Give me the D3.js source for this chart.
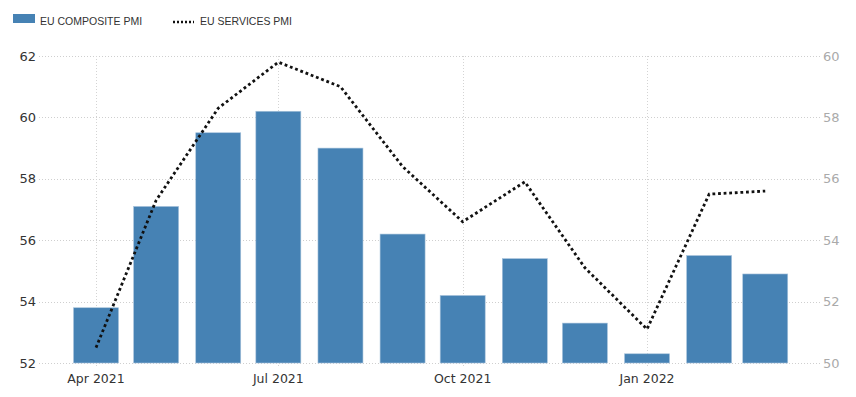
<!DOCTYPE html>
<html>
<head>
<meta charset="utf-8">
<script src="https://cdn.jsdelivr.net/npm/d3@7"></script>
<style>
  body { margin: 0; background: #fff; }
  svg { display: block; }
</style>
</head>
<body>
<svg id="container"></svg>
<script>
// monthly readings, Apr 2021 .. Mar 2022
const months = ['2021-04', '2021-05', '2021-06', '2021-07', '2021-08', '2021-09',
  '2021-10', '2021-11', '2021-12', '2022-01', '2022-02', '2022-03'];
const composite = [53.8, 57.1, 59.5, 60.2, 59.0, 56.2, 54.2, 55.4, 53.3, 52.3, 55.5, 54.9];
const services = [50.5, 55.3, 58.3, 59.8, 59.0, 56.4, 54.6, 55.9, 53.1, 51.1, 55.5, 55.6];
const leftTicks = [52, 54, 56, 58, 60, 62];
const rightTicks = [50, 52, 54, 56, 58, 60];
const xTicks = ['2021-04', '2021-07', '2021-10', '2022-01'];

const W = 856, H = 397;
const m = { left: 39, right: 820, top: 56, bottom: 363 };

const parse = d3.timeParse('%Y-%m');
const data = months.map(function (mo, i) {
  return { date: parse(mo), composite: composite[i], services: services[i] };
});

const x = d3.scaleTime()
  .domain([new Date(2021, 2, 3, 13), new Date(2022, 2, 28, 8)])
  .range([m.left, m.right]);
const yL = d3.scaleLinear().domain([52, 62]).range([m.bottom, m.top]);
const yR = d3.scaleLinear().domain([50, 60]).range([m.bottom, m.top]);

const svg = d3.select('#container')
  .attr('width', W)
  .attr('height', H);

const font = '"DejaVu Sans", Verdana, sans-serif';

// grid
svg.append('g')
  .selectAll('line')
  .data(leftTicks)
  .join('line')
    .attr('x1', m.left)
    .attr('x2', m.right)
    .attr('y1', function (d) { return Math.round(yL(d)) + 0.5; })
    .attr('y2', function (d) { return Math.round(yL(d)) + 0.5; })
    .attr('stroke', '#cfcfcf')
    .attr('stroke-dasharray', '1,2');

svg.append('g')
  .selectAll('line')
  .data(xTicks.map(parse))
  .join('line')
    .attr('x1', function (d) { return Math.round(x(d)) + 0.5; })
    .attr('x2', function (d) { return Math.round(x(d)) + 0.5; })
    .attr('y1', m.top)
    .attr('y2', m.bottom + 4)
    .attr('stroke', '#d4d4d4')
    .attr('stroke-dasharray', '1,2');

// bars
const bw = 45;
svg.append('g')
  .selectAll('rect')
  .data(data)
  .join('rect')
    .attr('x', function (d) { return x(d.date) - bw / 2; })
    .attr('y', function (d) { return yL(d.composite); })
    .attr('width', bw)
    .attr('height', function (d) { return m.bottom - yL(d.composite); })
    .attr('fill', '#4682b4')
    .attr('stroke', '#a9c4dc')
    .attr('stroke-width', 0.6);

// services line
const line = d3.line()
  .x(function (d) { return x(d.date); })
  .y(function (d) { return yR(d.services); });

svg.append('path')
  .datum(data)
  .attr('d', line)
  .attr('fill', 'none')
  .attr('stroke', '#111')
  .attr('stroke-width', 2.8)
  .attr('stroke-dasharray', '2.8,2.8');

// axes labels
svg.append('g')
  .selectAll('text')
  .data(leftTicks)
  .join('text')
    .attr('x', 36)
    .attr('y', function (d) { return yL(d); })
    .attr('dy', '0.36em')
    .attr('text-anchor', 'end')
    .attr('font-family', font)
    .attr('font-size', 13)
    .attr('fill', '#333')
    .text(function (d) { return d; });

svg.append('g')
  .selectAll('text')
  .data(rightTicks)
  .join('text')
    .attr('x', 823)
    .attr('y', function (d) { return yR(d); })
    .attr('dy', '0.36em')
    .attr('text-anchor', 'start')
    .attr('font-family', font)
    .attr('font-size', 13)
    .attr('fill', '#aaa')
    .text(function (d) { return d; });

svg.append('g')
  .selectAll('text')
  .data(xTicks.map(parse))
  .join('text')
    .attr('x', function (d) { return x(d); })
    .attr('y', 383)
    .attr('text-anchor', 'middle')
    .attr('font-family', font)
    .attr('font-size', 12.5)
    .attr('fill', '#333')
    .text(d3.timeFormat('%b %Y'));

// legend
const lg = svg.append('g').attr('font-family', '"Liberation Sans", Arial, sans-serif')
  .attr('font-size', 10.5).attr('fill', '#333');
lg.append('rect')
  .attr('x', 13).attr('y', 14).attr('width', 22).attr('height', 9)
  .attr('fill', '#4682b4');
lg.append('text').attr('x', 40).attr('y', 25).text('EU COMPOSITE PMI');
lg.append('line')
  .attr('x1', 173).attr('x2', 194).attr('y1', 22).attr('y2', 22)
  .attr('stroke', '#111').attr('stroke-width', 2.5).attr('stroke-dasharray', '2,2');
lg.append('text').attr('x', 200).attr('y', 25).text('EU SERVICES PMI');
</script>
</body>
</html>
